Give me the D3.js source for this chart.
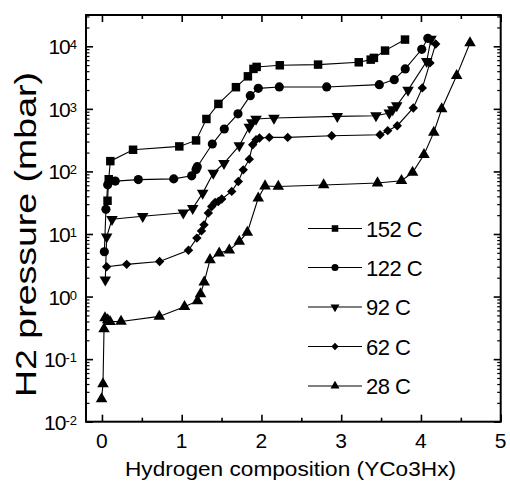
<!DOCTYPE html>
<html><head><meta charset="utf-8">
<script src="https://cdn.jsdelivr.net/npm/d3@7"></script>
<style>body{margin:0;background:#fff}svg{display:block;font-family:Arial,"Liberation Sans",sans-serif}</style>
</head><body><svg id="c" width="510" height="488"></svg>
<script>
const seriesNames = ["152 C", "122 C", "92 C", "62 C", "28 C"];
const xTicks = [0, 1, 2, 3, 4, 5];
const yTickExps = [-2, -1, 0, 1, 2, 3, 4];
const xLabel = "Hydrogen composition (YCo3Hx)";
const yLabel = "H2 pressure (mbar)";

const x152 = [0.07, 0.085, 0.105, 0.39, 0.97, 1.18, 1.31, 1.46, 1.68, 1.83, 1.90, 1.94, 2.23, 2.71, 3.22, 3.37, 3.41, 3.55, 3.80];
const p152 = [34, 75, 146, 222, 251, 313, 689, 1200, 2220, 3310, 4350, 4680, 4970, 5100, 5550, 6120, 6520, 8530, 12800];

const x122 = [0.03, 0.05, 0.072, 0.167, 0.456, 0.90, 1.125, 1.18, 1.195, 1.384, 1.534, 1.706, 1.86, 1.96, 2.224, 2.818, 3.478, 3.665, 3.803, 4.01, 4.086];
const p122 = [5.2, 24.8, 61, 70, 74, 76, 85, 107, 119, 274, 477, 832, 1626, 2128, 2240, 2240, 2437, 2930, 4350, 8950, 13400];

const x92 = [0.042, 0.059, 0.126, 0.511, 1.02, 1.138, 1.263, 1.396, 1.53, 1.722, 1.848, 1.88, 1.932, 2.157, 2.951, 3.436, 3.603, 3.646, 3.696, 3.838, 4.072, 4.126];
const p92 = [1.85, 9.0, 17.2, 19.2, 21.8, 25.8, 45, 94, 135, 258, 513, 601, 689, 715, 759, 778, 860, 971, 1125, 1992, 5750, 13000];

const x62 = [0.059, 0.31, 0.723, 1.085, 1.19, 1.248, 1.28, 1.334, 1.376, 1.418, 1.459, 1.502, 1.627, 1.71, 1.772, 1.848, 1.89, 1.932, 1.976, 2.098, 2.329, 2.881, 3.487, 3.583, 3.703, 3.904, 4.017, 4.113, 4.185];
const p62 = [3.0, 3.27, 3.63, 5.5, 8.6, 11.2, 14, 21.6, 27.5, 31.9, 33.1, 36.2, 47.9, 69, 106, 157, 267, 321, 342, 350, 350, 372, 386, 448, 538, 1033, 2160, 5420, 10900];

const x28 = [-0.005, 0.013, 0.026, 0.038, 0.072, 0.101, 0.239, 0.719, 1.035, 1.198, 1.236, 1.282, 1.355, 1.47, 1.597, 1.722, 1.823, 1.96, 2.045, 2.211, 2.78, 3.455, 3.756, 3.895, 4.038, 4.161, 4.26, 4.448, 4.615];
const p28 = [0.0232, 0.040, 0.304, 0.456, 0.424, 0.398, 0.40, 0.482, 0.69, 0.853, 1.10, 1.70, 3.87, 4.95, 5.53, 7.59, 10.6, 37.5, 58.4, 57.5, 60.6, 65.2, 71, 96, 185, 421, 996, 3400, 11300];

const seriesX = [x152, x122, x92, x62, x28];
const seriesP = [p152, p122, p92, p62, p28];
const markers = ["square", "circle", "tridown", "diamond", "triup"];

const L = 86, R = 500.7, T = 15, B = 421.7;
const svg = d3.select("#c");
const x = d3.scaleLinear().domain([-0.2, 5]).range([L, R]);
const y = d3.scaleLog().domain([0.01, Math.pow(10, 4.5)]).range([B, T]);

function symPath(kind, scale) {
  const s = scale || 1;
  if (kind === "square") return d3.symbol(d3.symbolSquare, 72 * s)();
  if (kind === "circle") return d3.symbol(d3.symbolCircle, 66 * s)();
  if (kind === "tridown" || kind === "triup") return d3.symbol(d3.symbolTriangle, 58 * s)();
  if (kind === "diamond") return d3.symbol(d3.symbolSquare, 44 * s)();
}
function symRot(kind) {
  if (kind === "tridown") return " rotate(180)";
  if (kind === "diamond") return " rotate(45)";
  return "";
}

// axes ticks
const minorX = d3.range(-0.0, 5.01, 0.5).filter(v => Math.abs(v - Math.round(v)) > 0.1);
const minorY = [];
for (let e = -2; e <= 4; e++) for (let m = 2; m <= 9; m++) { const v = m * Math.pow(10, e); if (v <= Math.pow(10, 4.5)) minorY.push(v); }
const majorY = yTickExps.map(e => Math.pow(10, e));

function tickAxis(axisFn, scale, vals, size, pos) {
  const g = svg.append("g").attr("transform", pos)
    .call(axisFn(scale).tickValues(vals).tickSize(size).tickFormat(""));
  g.select(".domain").remove();
  g.selectAll("line").attr("stroke", "#000").attr("stroke-width", 1.6);
  return g;
}
tickAxis(d3.axisBottom, x, xTicks, -7, `translate(0,${B})`);
tickAxis(d3.axisBottom, x, minorX, -4, `translate(0,${B})`);
tickAxis(d3.axisTop, x, xTicks, -7, `translate(0,${T})`);
tickAxis(d3.axisTop, x, minorX, -4, `translate(0,${T})`);
tickAxis(d3.axisLeft, y, majorY, -7, `translate(${L},0)`);
tickAxis(d3.axisLeft, y, minorY, -3.5, `translate(${L},0)`).selectAll("line").attr("stroke-width", 1.2);
tickAxis(d3.axisRight, y, majorY, -7, `translate(${R},0)`);
tickAxis(d3.axisRight, y, minorY, -3.5, `translate(${R},0)`).selectAll("line").attr("stroke-width", 1.2);

svg.append("rect").attr("x", L).attr("y", T).attr("width", R - L).attr("height", B - T)
  .attr("fill", "none").attr("stroke", "#000").attr("stroke-width", 2);

// x tick labels
svg.append("g").selectAll("text").data(xTicks).join("text")
  .attr("x", d => x(d)).attr("y", 448).attr("text-anchor", "middle")
  .attr("font-size", 21).attr("fill", "#000").text(d => d);

// y tick labels
const yl = svg.append("g").selectAll("text").data(yTickExps).join("text")
  .attr("x", 77).attr("y", d => y(Math.pow(10, d)) + 8).attr("text-anchor", "end")
  .attr("font-size", 21).attr("fill", "#000");
yl.append("tspan").text("10").attr("letter-spacing", -1);
yl.append("tspan").attr("font-size", 13).attr("dy", -5).text(d => d);

// titles
svg.append("text").attr("x", 290.5).attr("y", 476).attr("text-anchor", "middle")
  .attr("font-size", 21).attr("textLength", 331).attr("lengthAdjust", "spacingAndGlyphs")
  .attr("fill", "#000").text(xLabel);
svg.append("text").attr("transform", "translate(36,234.5) rotate(-90)").attr("text-anchor", "middle")
  .attr("font-size", 30).attr("textLength", 325).attr("lengthAdjust", "spacingAndGlyphs")
  .attr("fill", "#000").text(yLabel);

// series
const line = d3.line().x(d => x(d[0])).y(d => y(d[1]));
seriesX.forEach((xs, i) => {
  const pts = xs.map((v, j) => [v, seriesP[i][j]]);
  svg.append("path").datum(pts).attr("d", line).attr("fill", "none")
    .attr("stroke", "#000").attr("stroke-width", 1.1);
  svg.append("g").selectAll("path").data(pts).join("path")
    .attr("d", symPath(markers[i]))
    .attr("transform", d => `translate(${x(d[0])},${y(d[1])})` + symRot(markers[i]))
    .attr("fill", "#000");
});

// legend
const legY = [228.5, 267.5, 307, 346.5, 386];
seriesNames.forEach((n, i) => {
  const g = svg.append("g").attr("transform", `translate(0,${legY[i]})`);
  g.append("line").attr("x1", 308).attr("x2", 362).attr("y1", 0).attr("y2", 0)
    .attr("stroke", "#000").attr("stroke-width", 1.1);
  g.append("path").attr("d", symPath(markers[i], 0.6))
    .attr("transform", "translate(335,0)" + symRot(markers[i])).attr("fill", "#000");
  g.append("text").attr("x", 366).attr("y", 8).attr("font-size", 22)
    .attr("letter-spacing", -0.5).attr("fill", "#000").text(n);
});
</script></body></html>
